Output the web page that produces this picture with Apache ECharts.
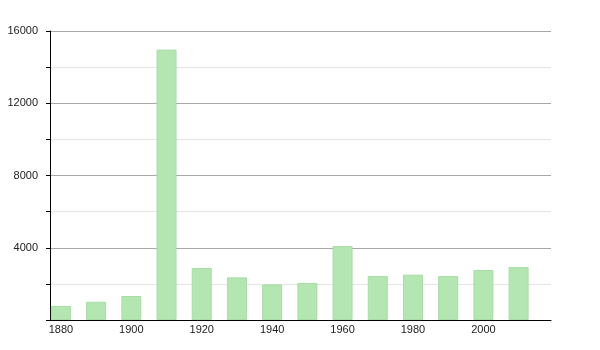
<!DOCTYPE html>
<html>
<head>
<meta charset="utf-8">
<script src="https://cdn.jsdelivr.net/npm/echarts@6/dist/echarts.min.js"></script>
<style>html,body{margin:0;padding:0;background:#fff;}#c{width:600px;height:350px;}</style>
</head>
<body>
<div id="c"></div>
<script>
var years = [1880,1890,1900,1910,1920,1930,1940,1950,1960,1970,1980,1990,2000,2010];
var population = [780,1010,1330,14970,2880,2360,1970,2050,4090,2430,2510,2430,2770,2930];
var xLabelYears = [1880,1900,1920,1940,1960,1980,2000];
var yLabelValues = [4000,8000,12000,16000];

var chart = echarts.init(document.getElementById('c'), null, {renderer:'canvas'});
chart.setOption({
  animation:false,
  backgroundColor:'#fff',
  grid:{left:50,right:49,top:31,bottom:30,containLabel:false},
  xAxis:{
    type:'value', min:1876.9, max:2019.2,
    axisLine:{show:true,lineStyle:{color:'#000',width:1}},
    axisTick:{show:false},
    splitLine:{show:false},
    axisLabel:{customValues:xLabelYears,color:'#222',fontSize:11,fontFamily:'Liberation Sans, Arial, sans-serif',margin:4,hideOverlap:false,
      formatter:function(v){return String(v);}}
  },
  yAxis:{
    type:'value', min:0, max:16000, interval:2000,
    axisLine:{show:true,lineStyle:{color:'#000',width:1}},
    axisTick:{show:true,length:4,lineStyle:{color:'#000'}},
    splitLine:{show:true,lineStyle:{color:['#a8a8a8','#e4e4e4'],width:1}},
    axisLabel:{
      color:'#222',fontSize:11,fontFamily:'Liberation Sans, Arial, sans-serif',margin:12,
      formatter:function(v){return yLabelValues.indexOf(v)>=0?String(v):'';}
    }
  },
  series:[{
    type:'bar',
    barWidth:20,
    data:years.map(function(y,i){return [y,population[i]];}),
    itemStyle:{color:'#b4e6b2',borderColor:'#a9dca7',borderWidth:1}
  }]
});
</script>
</body>
</html>
